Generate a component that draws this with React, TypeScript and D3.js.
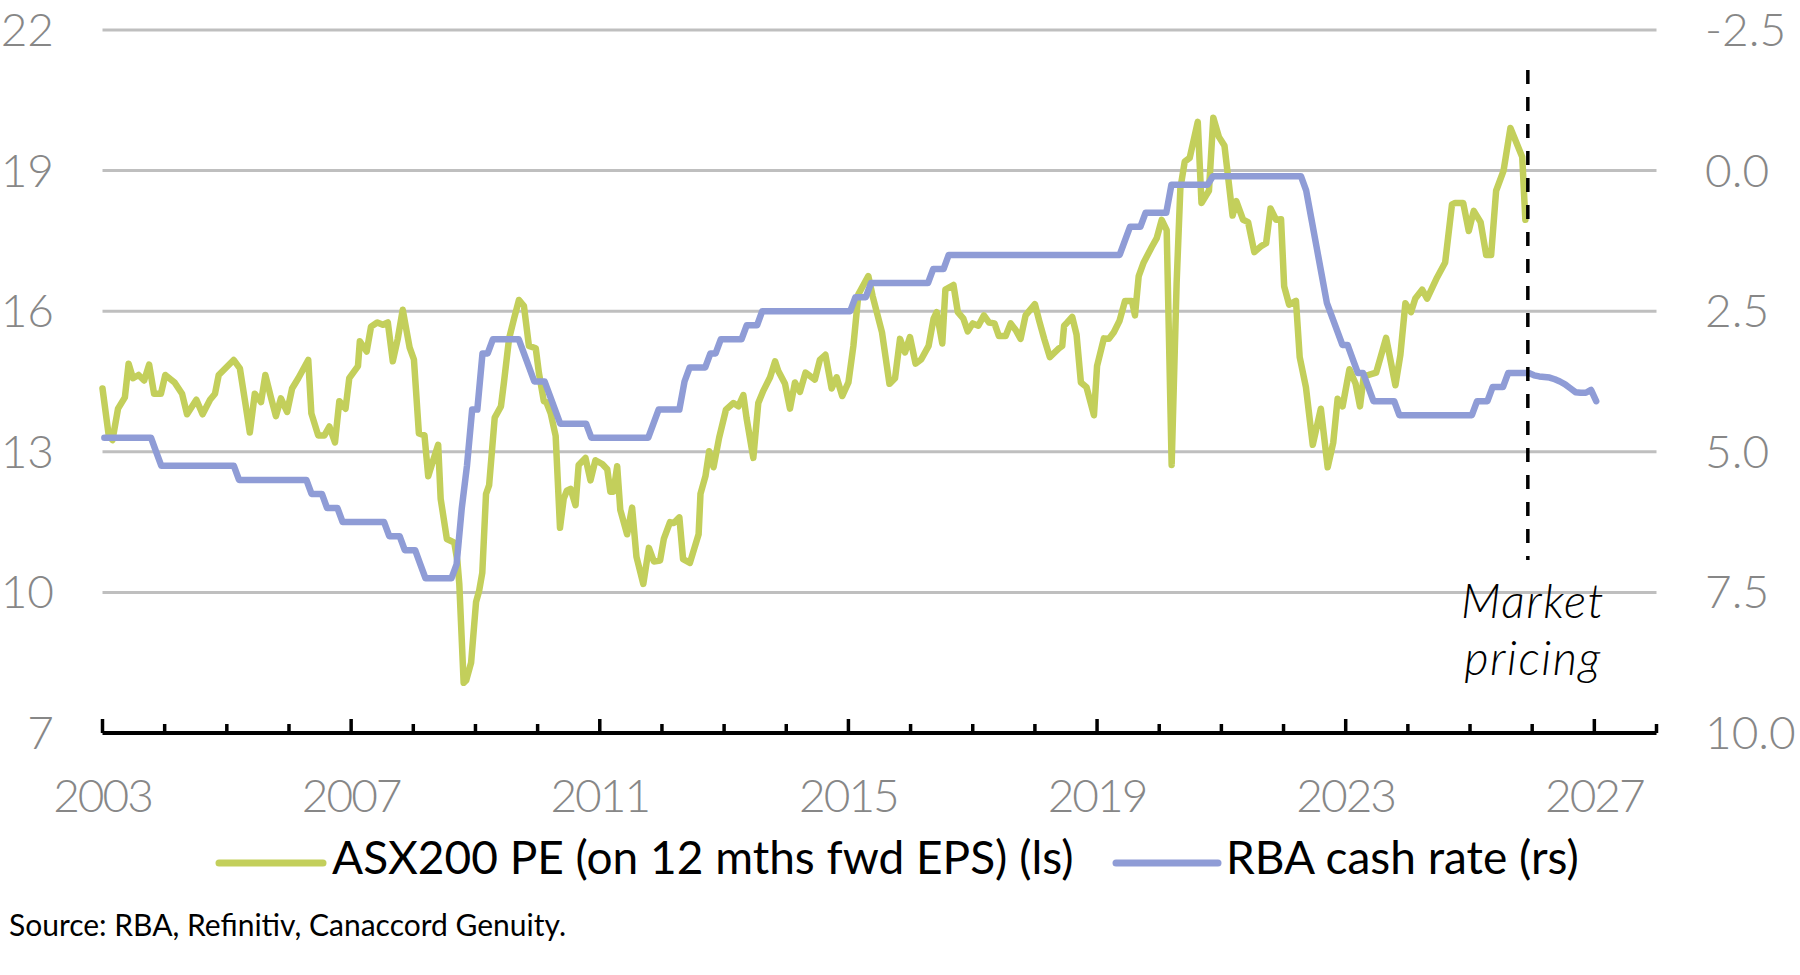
import React from 'react';
import * as d3 from 'd3';

const W = 1800;
const H = 975;

// ---- axis definitions ----
const xDomain: [number, number] = [2003, 2028];
const xTickYears = d3.range(2003, 2029);
const xLabelYears = [2003, 2007, 2011, 2015, 2019, 2023, 2027];
const leftTicks = [7, 10, 13, 16, 19, 22];
const rightTicks = [-2.5, 0, 2.5, 5, 7.5, 10];

// ---- ASX200 PE (on 12 mths fwd EPS), [year, PE] ----
const asxPE: [number, number][] = [
  [2003.0, 14.35], [2003.1, 13.35], [2003.16, 13.25], [2003.25, 13.92], [2003.36, 14.16], [2003.42, 14.88],
  [2003.49, 14.57], [2003.58, 14.64], [2003.67, 14.52], [2003.75, 14.86], [2003.83, 14.24], [2003.94, 14.24],
  [2004.01, 14.64], [2004.16, 14.48], [2004.28, 14.24], [2004.36, 13.8], [2004.51, 14.11], [2004.61, 13.8],
  [2004.73, 14.11], [2004.81, 14.24], [2004.87, 14.64], [2005.11, 14.96], [2005.21, 14.78], [2005.3, 14.02],
  [2005.37, 13.41], [2005.45, 14.24], [2005.55, 14.06], [2005.62, 14.64], [2005.71, 14.16], [2005.79, 13.76],
  [2005.87, 14.14], [2005.97, 13.85], [2006.05, 14.35], [2006.15, 14.57], [2006.31, 14.96], [2006.36, 13.82],
  [2006.47, 13.35], [2006.57, 13.35], [2006.65, 13.54], [2006.74, 13.2], [2006.81, 14.08], [2006.91, 13.92],
  [2006.97, 14.57], [2007.11, 14.83], [2007.14, 15.36], [2007.25, 15.14], [2007.32, 15.67], [2007.42, 15.76],
  [2007.51, 15.71], [2007.59, 15.76], [2007.67, 14.93], [2007.75, 15.41], [2007.83, 16.03], [2007.94, 15.23],
  [2008.01, 14.97], [2008.09, 13.39], [2008.18, 13.35], [2008.24, 12.48], [2008.32, 12.82], [2008.4, 13.15],
  [2008.44, 12.0], [2008.54, 11.14], [2008.66, 11.06], [2008.71, 10.66], [2008.74, 10.18], [2008.81, 8.07],
  [2008.85, 8.12], [2008.93, 8.5], [2009.01, 9.8], [2009.06, 10.04], [2009.11, 10.42], [2009.17, 12.1],
  [2009.22, 12.29], [2009.31, 13.73], [2009.41, 13.97], [2009.46, 14.5], [2009.54, 15.41], [2009.62, 15.84],
  [2009.7, 16.24], [2009.78, 16.11], [2009.86, 15.26], [2009.97, 15.21], [2010.02, 14.69], [2010.1, 14.08],
  [2010.14, 14.06], [2010.21, 13.82], [2010.29, 13.34], [2010.36, 11.38], [2010.42, 12.0], [2010.47, 12.17],
  [2010.53, 12.21], [2010.61, 11.86], [2010.66, 12.72], [2010.77, 12.87], [2010.85, 12.39], [2010.93, 12.82],
  [2011.04, 12.74], [2011.12, 12.63], [2011.17, 12.15], [2011.22, 12.15], [2011.28, 12.69], [2011.33, 11.76],
  [2011.44, 11.24], [2011.52, 11.81], [2011.59, 10.76], [2011.7, 10.18], [2011.79, 10.95], [2011.87, 10.66],
  [2011.97, 10.68], [2012.03, 11.14], [2012.13, 11.5], [2012.19, 11.48], [2012.28, 11.6], [2012.34, 10.71],
  [2012.45, 10.63], [2012.59, 11.24], [2012.62, 12.1], [2012.7, 12.48], [2012.76, 13.01], [2012.83, 12.67],
  [2012.92, 13.3], [2013.03, 13.9], [2013.15, 14.04], [2013.23, 13.97], [2013.31, 14.21], [2013.36, 13.73],
  [2013.47, 12.87], [2013.55, 14.04], [2013.63, 14.3], [2013.74, 14.59], [2013.82, 14.93], [2013.87, 14.73],
  [2013.98, 14.45], [2014.06, 13.92], [2014.14, 14.48], [2014.22, 14.28], [2014.31, 14.69], [2014.46, 14.54],
  [2014.54, 14.96], [2014.63, 15.07], [2014.73, 14.35], [2014.81, 14.59], [2014.9, 14.19], [2015.0, 14.48],
  [2015.08, 15.26], [2015.16, 16.36], [2015.32, 16.75], [2015.39, 16.32], [2015.54, 15.55], [2015.66, 14.45],
  [2015.75, 14.57], [2015.83, 15.41], [2015.91, 15.12], [2015.99, 15.45], [2016.08, 14.88], [2016.17, 14.97],
  [2016.29, 15.26], [2016.37, 15.84], [2016.42, 15.98], [2016.51, 15.31], [2016.56, 16.46], [2016.69, 16.56],
  [2016.76, 15.98], [2016.85, 15.84], [2016.92, 15.57], [2017.0, 15.74], [2017.09, 15.69], [2017.18, 15.91],
  [2017.26, 15.76], [2017.35, 15.74], [2017.42, 15.47], [2017.53, 15.47], [2017.61, 15.74], [2017.69, 15.6],
  [2017.77, 15.41], [2017.85, 15.91], [2018.0, 16.15], [2018.07, 15.79], [2018.15, 15.41], [2018.24, 15.02],
  [2018.39, 15.21], [2018.44, 15.26], [2018.47, 15.69], [2018.52, 15.76], [2018.6, 15.88], [2018.67, 15.5],
  [2018.74, 14.48], [2018.83, 14.38], [2018.95, 13.78], [2019.0, 14.83], [2019.11, 15.42], [2019.19, 15.41],
  [2019.27, 15.55], [2019.36, 15.79], [2019.45, 16.22], [2019.56, 16.22], [2019.61, 15.91], [2019.67, 16.75],
  [2019.75, 17.04], [2019.88, 17.37], [2019.96, 17.56], [2020.04, 17.95], [2020.12, 17.73], [2020.2, 12.72],
  [2020.28, 16.6], [2020.34, 18.62], [2020.41, 19.19], [2020.49, 19.27], [2020.62, 20.04], [2020.68, 18.31],
  [2020.8, 18.57], [2020.87, 20.13], [2020.96, 19.72], [2021.05, 19.53], [2021.18, 18.04], [2021.24, 18.35],
  [2021.35, 17.95], [2021.43, 17.9], [2021.53, 17.26], [2021.64, 17.39], [2021.72, 17.45], [2021.79, 18.19],
  [2021.88, 17.95], [2021.96, 17.96], [2022.01, 16.53], [2022.09, 16.14], [2022.2, 16.22], [2022.26, 15.02],
  [2022.36, 14.38], [2022.47, 13.15], [2022.6, 13.92], [2022.71, 12.67], [2022.8, 13.2], [2022.87, 14.13],
  [2022.95, 13.97], [2023.06, 14.76], [2023.16, 14.45], [2023.23, 13.97], [2023.29, 14.61], [2023.37, 14.64],
  [2023.49, 14.69], [2023.65, 15.43], [2023.8, 14.42], [2023.88, 15.07], [2023.96, 16.17], [2024.05, 15.98],
  [2024.12, 16.27], [2024.23, 16.46], [2024.31, 16.27], [2024.47, 16.72], [2024.6, 17.04], [2024.71, 18.28],
  [2024.76, 18.31], [2024.89, 18.31], [2024.98, 17.71], [2025.06, 18.14], [2025.17, 17.9], [2025.26, 17.2],
  [2025.34, 17.2], [2025.42, 18.57], [2025.54, 19.0], [2025.65, 19.91], [2025.84, 19.29], [2025.89, 17.95],
];

// ---- RBA cash rate, monthly from Jan 2003 (2026 = market pricing) ----
const cashRateStart = 2003.03;
const rbaCashRate: number[] = [
  // 2003
  4.75, 4.75, 4.75, 4.75, 4.75, 4.75, 4.75, 4.75, 4.75, 4.75, 5.0, 5.25,
  // 2004
  5.25, 5.25, 5.25, 5.25, 5.25, 5.25, 5.25, 5.25, 5.25, 5.25, 5.25, 5.25,
  // 2005
  5.25, 5.25, 5.5, 5.5, 5.5, 5.5, 5.5, 5.5, 5.5, 5.5, 5.5, 5.5,
  // 2006
  5.5, 5.5, 5.5, 5.5, 5.75, 5.75, 5.75, 6.0, 6.0, 6.0, 6.25, 6.25,
  // 2007
  6.25, 6.25, 6.25, 6.25, 6.25, 6.25, 6.25, 6.5, 6.5, 6.5, 6.75, 6.75,
  // 2008
  6.75, 7.0, 7.25, 7.25, 7.25, 7.25, 7.25, 7.25, 7.0, 6.0, 5.25, 4.25,
  // 2009
  4.25, 3.25, 3.25, 3.0, 3.0, 3.0, 3.0, 3.0, 3.0, 3.25, 3.5, 3.75,
  // 2010
  3.75, 3.75, 4.0, 4.25, 4.5, 4.5, 4.5, 4.5, 4.5, 4.5, 4.75, 4.75,
  // 2011
  4.75, 4.75, 4.75, 4.75, 4.75, 4.75, 4.75, 4.75, 4.75, 4.75, 4.5, 4.25,
  // 2012
  4.25, 4.25, 4.25, 4.25, 3.75, 3.5, 3.5, 3.5, 3.5, 3.25, 3.25, 3.0,
  // 2013
  3.0, 3.0, 3.0, 3.0, 2.75, 2.75, 2.75, 2.5, 2.5, 2.5, 2.5, 2.5,
  // 2014
  2.5, 2.5, 2.5, 2.5, 2.5, 2.5, 2.5, 2.5, 2.5, 2.5, 2.5, 2.5,
  // 2015
  2.5, 2.25, 2.25, 2.25, 2.0, 2.0, 2.0, 2.0, 2.0, 2.0, 2.0, 2.0,
  // 2016
  2.0, 2.0, 2.0, 2.0, 1.75, 1.75, 1.75, 1.5, 1.5, 1.5, 1.5, 1.5,
  // 2017
  1.5, 1.5, 1.5, 1.5, 1.5, 1.5, 1.5, 1.5, 1.5, 1.5, 1.5, 1.5,
  // 2018
  1.5, 1.5, 1.5, 1.5, 1.5, 1.5, 1.5, 1.5, 1.5, 1.5, 1.5, 1.5,
  // 2019
  1.5, 1.5, 1.5, 1.5, 1.5, 1.25, 1.0, 1.0, 1.0, 0.75, 0.75, 0.75,
  // 2020
  0.75, 0.75, 0.25, 0.25, 0.25, 0.25, 0.25, 0.25, 0.25, 0.25, 0.1, 0.1,
  // 2021
  0.1, 0.1, 0.1, 0.1, 0.1, 0.1, 0.1, 0.1, 0.1, 0.1, 0.1, 0.1,
  // 2022
  0.1, 0.1, 0.1, 0.1, 0.35, 0.85, 1.35, 1.85, 2.35, 2.6, 2.85, 3.1,
  // 2023
  3.1, 3.35, 3.6, 3.6, 3.85, 4.1, 4.1, 4.1, 4.1, 4.1, 4.35, 4.35,
  // 2024
  4.35, 4.35, 4.35, 4.35, 4.35, 4.35, 4.35, 4.35, 4.35, 4.35, 4.35, 4.35,
  // 2025
  4.35, 4.1, 4.1, 4.1, 3.85, 3.85, 3.85, 3.6, 3.6, 3.6, 3.6, 3.6,
  // 2026 (market pricing)
  3.64, 3.66, 3.67, 3.68, 3.71, 3.75, 3.8, 3.87, 3.94, 3.95, 3.95, 3.9,
  // Jan 2027
  4.1,
];

const marketPricingStart = 2025.93;

const legendItems = [
  { label: 'ASX200 PE (on 12 mths fwd EPS) (ls)', color: '#c3cf5b' },
  { label: 'RBA cash rate (rs)', color: '#8f9cd6' },
];
const sourceText = 'Source: RBA, Refinitiv, Canaccord Genuity.';

const GREEN = '#c3cf5b';
const BLUE = '#8f9cd6';
const GRID = '#bfbfbf';
const LABEL = '#878787';
const FONT = 'Lato, "Open Sans", sans-serif';

export default function App() {
  const left = 102.5;
  const right = 1656.5;
  const top = 30;
  const bottom = 733;

  const x = d3.scaleLinear().domain(xDomain).range([left, right]);
  const yL = d3.scaleLinear().domain([7, 22]).range([bottom, top]);
  const yR = d3.scaleLinear().domain([-2.5, 10]).range([top, bottom]);

  const peLine = d3
    .line<[number, number]>()
    .x((d) => x(d[0]))
    .y((d) => yL(d[1]));
  const rateLine = d3
    .line<number>()
    .x((_, i) => x(cashRateStart + i / 12))
    .y((d) => yR(d));

  const mx = x(marketPricingStart);

  return (
    <svg
      width={W}
      height={H}
      viewBox={`0 0 ${W} ${H}`}
      style={{ position: 'absolute', left: 0, top: 0, background: '#fff' }}
    >
      <rect x={0} y={0} width={W} height={H} fill="#fff" />
      {/* gridlines */}
      {leftTicks
        .filter((t) => t !== 7)
        .map((t) => (
          <line key={t} x1={left} x2={right} y1={yL(t)} y2={yL(t)} stroke={GRID} strokeWidth={3} />
        ))}

      {/* left axis labels */}
      {leftTicks.map((t) => (
        <text
          key={'l' + t}
          x={54}
          y={yL(t) + 16}
          textAnchor="end"
          fontFamily={FONT}
          fontWeight={300}
          fontSize={46}
          fill={LABEL}
        >
          {t}
        </text>
      ))}

      {/* right axis labels */}
      {rightTicks.map((t) => (
        <text
          key={'r' + t}
          x={1705}
          y={yR(t) + 16}
          textAnchor="start"
          fontFamily={FONT}
          fontWeight={300}
          fontSize={46}
          fill={LABEL}
        >
          {t.toFixed(1)}
        </text>
      ))}

      {/* series */}
      <path d={peLine(asxPE) || ''} fill="none" stroke={GREEN} strokeWidth={6.5} strokeLinejoin="round" strokeLinecap="round" />
      <path d={rateLine(rbaCashRate) || ''} fill="none" stroke={BLUE} strokeWidth={6.5} strokeLinejoin="round" strokeLinecap="round" />

      {/* market pricing marker */}
      <line x1={mx} x2={mx} y1={70} y2={560} stroke="#000" strokeWidth={3.5} strokeDasharray="14 13" />
      <text x={1533} y={618} textAnchor="middle" fontFamily={FONT} fontStyle="italic" fontWeight={300} fontSize={47} letterSpacing={1.5} fill="#000">
        Market
      </text>
      <text x={1533} y={675} textAnchor="middle" fontFamily={FONT} fontStyle="italic" fontWeight={300} fontSize={47} letterSpacing={1.5} fill="#000">
        pricing
      </text>

      {/* x axis */}
      <line x1={left} x2={right} y1={bottom} y2={bottom} stroke="#000" strokeWidth={4} />
      {xTickYears.map((yr) => {
        const major = (yr - 2003) % 4 === 0;
        return (
          <line
            key={'t' + yr}
            x1={x(yr)}
            x2={x(yr)}
            y1={bottom}
            y2={bottom - (major ? 14 : 9)}
            stroke="#000"
            strokeWidth={3.5}
          />
        );
      })}
      {xLabelYears.map((yr) => (
        <text
          key={'x' + yr}
          x={x(yr)}
          y={812}
          textAnchor="middle"
          fontFamily={FONT}
          fontWeight={300}
          fontSize={46}
          letterSpacing={-2}
          fill={LABEL}
        >
          {yr}
        </text>
      ))}

      {/* legend */}
      <line x1={219} x2={323} y1={863} y2={863} stroke={legendItems[0].color} strokeWidth={7} strokeLinecap="round" />
      <text x={332} y={874} fontFamily={FONT} fontWeight={400} fontSize={46} fill="#000">
        {legendItems[0].label}
      </text>
      <line x1={1116} x2={1218} y1={863} y2={863} stroke={legendItems[1].color} strokeWidth={7} strokeLinecap="round" />
      <text x={1226} y={874} fontFamily={FONT} fontWeight={400} fontSize={46} fill="#000">
        {legendItems[1].label}
      </text>

      {/* source */}
      <text x={9} y={936} fontFamily={FONT} fontWeight={400} fontSize={30} fill="#000">
        {sourceText}
      </text>
    </svg>
  );
}
